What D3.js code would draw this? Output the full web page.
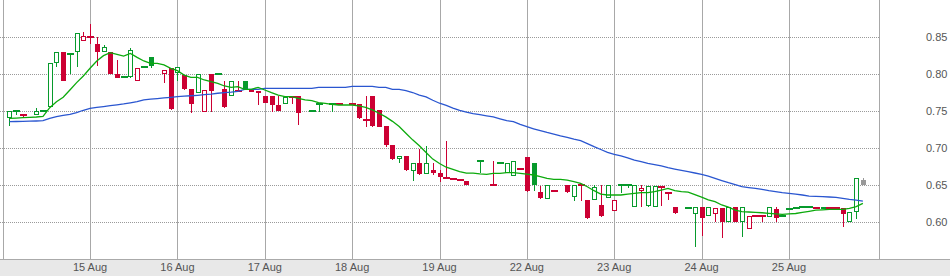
<!DOCTYPE html>
<html>
<head>
<meta charset="utf-8">
<script src="https://cdn.jsdelivr.net/npm/d3@7"></script>
<style>
  html, body { margin: 0; padding: 0; background: #fff; }
  svg { display: block; }
</style>
</head>
<body>
<div id="plot-container"></div>
<script>
'use strict';

// 30 minute candles, index 0 = first slot of 14 Aug (13 slots per day), null = no trade
const opens = [
  null, 0.74, 0.75, 0.745, null, 0.745, 0.75, 0.755, 0.815, 0.83,
  0.8275, 0.83, 0.845, 0.85, 0.84, 0.83, 0.83, 0.80, 0.796, 0.796,
  0.79, 0.809, 0.8225, null, 0.80, 0.808, 0.801, 0.7985, 0.78, 0.775,
  0.749, 0.80, 0.80, 0.78, 0.77, 0.777, 0.79, 0.7785, 0.777, 0.7703,
  0.7703, 0.758, 0.759, 0.769, 0.7703, null, 0.7495, 0.7595, null, 0.76,
  0.759, null, 0.759, 0.759, 0.738, 0.7703, 0.7514, 0.7297, 0.704, 0.6847,
  0.6892, 0.6693, 0.6793, 0.6648, 0.6702, 0.6662, 0.659, 0.658, 0.657, 0.6553,
  null, 0.682, null, 0.6495, 0.68, 0.6657, 0.662, 0.672, 0.6878, 0.6793,
  0.641, 0.6306, 0.6414, null, 0.6495, 0.634, 0.6495, 0.6297, 0.6292, 0.6229,
  0.632, 0.6144, 0.6495, 0.6495, 0.6198, 0.642, 0.622, 0.6207, 0.6468, 0.6396,
  0.6198, null, 0.6184, 0.6103, 0.6198, 0.6085, 0.6112, 0.6184, 0.5995, 0.6198,
  0.5995, 0.5905, 0.6085, 0.6085, 0.6072, 0.617, 0.6085, 0.618, 0.6185, 0.6198,
  0.6198, 0.6185, 0.617, 0.619, 0.619, 0.6184, 0.6004, 0.6139, 0.6567
];
const highs = [
  null, 0.75, 0.75, 0.745, null, 0.7535, 0.75, 0.815, 0.83, 0.83,
  0.8275, 0.855, 0.857, 0.8675, 0.85, 0.8387, 0.83, 0.819, 0.796, 0.835,
  0.808, 0.809, 0.8234, null, 0.806, 0.808, 0.809, 0.7985, 0.78, 0.80,
  0.778, 0.80, 0.80, 0.79, 0.79, 0.79, 0.79, 0.7785, 0.777, 0.7703,
  0.7703, 0.7703, 0.7694, 0.7694, 0.7703, null, 0.7495, 0.7595, null, 0.76,
  0.759, null, 0.759, 0.759, 0.7703, 0.7703, 0.7514, 0.7297, 0.704, 0.6892,
  0.6892, 0.6793, 0.6986, 0.7027, 0.68, 0.6702, 0.7094, 0.658, 0.657, 0.6553,
  null, 0.682, null, 0.682, 0.68, 0.68, 0.682, 0.672, 0.6878, 0.6793,
  0.649, 0.6495, 0.6414, null, 0.6495, 0.6495, 0.6495, 0.6297, 0.6495, 0.6495,
  0.6495, 0.6297, 0.6495, 0.6495, 0.6495, 0.6495, 0.648, 0.6486, 0.6477, 0.6396,
  0.6198, null, 0.6184, 0.6198, 0.6198, 0.6198, 0.6184, 0.6184, 0.6198, 0.6198,
  0.6198, 0.6085, 0.6085, 0.6085, 0.6198, 0.6198, 0.6085, 0.618, 0.6198, 0.6198,
  0.6198, 0.6198, 0.6198, 0.619, 0.619, 0.6184, 0.6139, 0.659, 0.659
];
const lows = [
  null, 0.73, 0.745, 0.74, null, 0.745, 0.75, 0.755, 0.81, 0.79,
  0.80, 0.81, 0.845, 0.84, 0.811, 0.83, 0.80, 0.795, 0.796, 0.795,
  0.79, 0.809, 0.8086, null, 0.788, 0.751, 0.79, 0.779, 0.747, 0.775,
  0.749, 0.749, 0.80, 0.754, 0.77, 0.777, 0.778, 0.776, 0.758, 0.7613,
  0.749, 0.75, 0.759, 0.7595, 0.731, null, 0.7495, 0.749, null, 0.749,
  0.759, null, 0.759, 0.739, 0.7288, 0.729, 0.728, 0.701, 0.684, 0.6793,
  0.669, 0.6558, 0.664, 0.6648, 0.6635, 0.654, 0.659, 0.657, 0.6555, 0.65,
  null, 0.6657, null, 0.6495, 0.68, 0.6657, 0.662, 0.672, 0.640, 0.6423,
  0.6315, 0.6306, 0.6414, null, 0.639, 0.6288, 0.6288, 0.6045, 0.6292, 0.6072,
  0.632, 0.6144, 0.6396, 0.6464, 0.6198, 0.6198, 0.6198, 0.6207, 0.6216, 0.6297,
  0.6103, null, 0.6184, 0.5667, 0.5815, 0.6085, 0.5995, 0.5788, 0.5995, 0.6004,
  0.58, 0.5905, 0.6085, 0.5995, 0.6072, 0.6004, 0.6072, 0.618, 0.617, 0.6198,
  0.6198, 0.6172, 0.617, 0.619, 0.619, 0.5937, 0.6004, 0.6045, 0.65
];
const closes = [
  null, 0.75, 0.75, 0.745, null, 0.75, 0.75, 0.815, 0.83, 0.79,
  0.8275, 0.855, 0.852, 0.85, 0.83, 0.837, 0.80, 0.795, 0.796, 0.833,
  0.808, 0.809, 0.8105, null, 0.805, 0.753, 0.809, 0.78, 0.76, 0.80,
  0.778, 0.777, 0.80, 0.755, 0.79, 0.777, 0.778, 0.776, 0.775, 0.7613,
  0.758, 0.75, 0.7694, 0.768, 0.7477, null, 0.7495, 0.7595, null, 0.76,
  0.759, null, 0.759, 0.741, 0.736, 0.730, 0.7285, 0.704, 0.6851, 0.6892,
  0.6702, 0.6793, 0.6648, 0.6793, 0.6657, 0.6612, 0.659, 0.657, 0.6555, 0.65,
  null, 0.682, null, 0.6495, 0.68, 0.68, 0.682, 0.672, 0.6423, 0.6504,
  0.6328, 0.6495, 0.6414, null, 0.640, 0.6495, 0.648, 0.6058, 0.6468, 0.6085,
  0.6495, 0.6297, 0.6495, 0.6495, 0.6495, 0.6465, 0.648, 0.6486, 0.6468, 0.6378,
  0.6117, null, 0.6184, 0.6198, 0.6058, 0.6198, 0.6184, 0.6004, 0.6198, 0.6004,
  0.6198, 0.6085, 0.6085, 0.6085, 0.6198, 0.6058, 0.6085, 0.618, 0.6185, 0.6198,
  0.6198, 0.6185, 0.6198, 0.619, 0.619, 0.6103, 0.6139, 0.659, 0.65
];

// moving averages (green = short, blue = long)
const maShort = [
  null, 0.740, 0.7405, 0.741, 0.7414, 0.7419, 0.7428, 0.7545, 0.7626, 0.7685,
  0.7784, 0.7883, 0.7973, 0.8077, 0.8176, 0.8248, 0.8288, 0.8266, 0.8243, 0.8279,
  0.8225, 0.8176, 0.8144, 0.8144, 0.8122, 0.8077, 0.8045, 0.7986, 0.7955, 0.7955,
  0.7919, 0.7896, 0.7874, 0.7838, 0.782, 0.7829, 0.7793, 0.7793, 0.782, 0.7784,
  0.7748, 0.7716, 0.7694, 0.7694, 0.7671, 0.7649, 0.764, 0.7613, 0.7604, 0.759,
  0.7581, 0.7581, 0.7581, 0.7568, 0.755, 0.7514, 0.747, 0.742, 0.736, 0.729,
  0.72, 0.711, 0.703, 0.694, 0.685, 0.679, 0.674, 0.671, 0.668, 0.666,
  0.666, 0.665, 0.6644, 0.6657, 0.6657, 0.6666, 0.6666, 0.6657, 0.6648, 0.6635,
  0.6612, 0.659, 0.6576, 0.6576, 0.6567, 0.6545, 0.6522, 0.6477, 0.6423, 0.6378,
  0.6365, 0.6365, 0.6365, 0.6378, 0.6387, 0.6396, 0.6396, 0.641, 0.6432, 0.6455,
  0.6423, 0.641, 0.6405, 0.637, 0.6335, 0.63, 0.6274, 0.623, 0.62, 0.6162,
  0.614, 0.6135, 0.613, 0.6125, 0.6117, 0.611, 0.6103, 0.611, 0.6115, 0.613,
  0.6145, 0.616, 0.6165, 0.617, 0.617, 0.617, 0.6184, 0.6207, 0.6252
];
const maLong = [
  null, 0.7356, 0.7358, 0.736, 0.7362, 0.7365, 0.737, 0.740, 0.7423, 0.744,
  0.7455, 0.7477, 0.751, 0.7535, 0.755, 0.756, 0.7572, 0.7584, 0.7595, 0.761,
  0.7626, 0.765, 0.766, 0.7667, 0.7676, 0.7685, 0.7694, 0.77, 0.7706, 0.7712,
  0.772, 0.7728, 0.774, 0.7748, 0.7755, 0.7765, 0.7793, 0.7793, 0.7793, 0.7806,
  0.7806, 0.7806, 0.7806, 0.7806, 0.7806, 0.7806, 0.7806, 0.782, 0.782, 0.782,
  0.782, 0.782, 0.7833, 0.7833, 0.7833, 0.7833, 0.782, 0.782, 0.7793, 0.7793,
  0.7775, 0.775, 0.7716, 0.769, 0.7645, 0.7605, 0.7575, 0.754, 0.751, 0.7485,
  0.7465, 0.745, 0.7435, 0.742, 0.7395, 0.737, 0.7355, 0.732, 0.7288, 0.726,
  0.7234, 0.721, 0.7189, 0.7165, 0.7144, 0.712, 0.7099, 0.706, 0.7018, 0.698,
  0.6941, 0.6915, 0.6892, 0.6865, 0.6837, 0.6815, 0.6793, 0.6775, 0.6757, 0.6735,
  0.6716, 0.6698, 0.668, 0.6662, 0.6644, 0.662, 0.659, 0.656, 0.6531, 0.6505,
  0.6477, 0.6465, 0.6455, 0.644, 0.6423, 0.641, 0.6396, 0.6387, 0.6378, 0.6365,
  0.6351, 0.6346, 0.6342, 0.6338, 0.6333, 0.632, 0.6305, 0.6297, 0.6283
];

// day separators: candle index of first slot of each day
const dayIndex = [0, 13, 26, 39, 52, 65, 78, 91, 104, 117];
const dayLabels = ["14 Aug", "15 Aug", "16 Aug", "17 Aug", "18 Aug", "19 Aug", "22 Aug", "23 Aug", "24 Aug", "25 Aug"];
const priceTicks = [0.60, 0.65, 0.70, 0.75, 0.80, 0.85];

(function () {
  const width = 950, height = 276;
  const plotRight = 879, plotBottom = 259;
  const RED = "#cc0033", GREEN = "#079a2c", LIVE = "#999999";
  const FONT = "'Liberation Sans', Arial, sans-serif";

  const svg = d3.select("#plot-container").append("svg")
    .attr("width", width).attr("height", height)
    .attr("viewBox", [0, 0, width, height]);

  const x = d3.scaleLinear().domain([0, 130.4]).range([2.7, plotRight]);
  const y = d3.scaleLinear().domain([0.55, 0.90]).range([plotBottom, 0]);
  const px = v => Math.round(v);

  // bottom date strip
  svg.append("rect")
    .attr("x", 0).attr("y", plotBottom).attr("width", width).attr("height", height - plotBottom)
    .attr("fill", "#e8e8e8");

  // horizontal dotted grid
  svg.append("g").selectAll("line").data(priceTicks).join("line")
    .attr("x1", 0).attr("x2", plotRight)
    .attr("y1", d => px(y(d)) + 0.5).attr("y2", d => px(y(d)) + 0.5)
    .attr("stroke", "#9a9a9a").attr("stroke-dasharray", "1,1")
    .attr("shape-rendering", "crispEdges");

  // vertical day lines + right border
  const vlines = dayIndex.map(i => x(i)).concat([plotRight]);
  svg.append("g").selectAll("line").data(vlines).join("line")
    .attr("x1", d => px(d) + 0.5).attr("x2", d => px(d) + 0.5)
    .attr("y1", 0).attr("y2", plotBottom)
    .attr("stroke", "#a8a8a8").attr("stroke-width", 1.3)
    .attr("shape-rendering", "crispEdges");

  svg.append("line")
    .attr("x1", 0).attr("x2", width).attr("y1", plotBottom + 0.5).attr("y2", plotBottom + 0.5)
    .attr("stroke", "#aaaaaa").attr("shape-rendering", "crispEdges");

  // build candles; colour by close vs previous close, hollow when close > open
  const candles = [];
  let prevClose = null, prevColor = GREEN;
  for (let i = 0; i < closes.length; i++) {
    if (closes[i] == null) continue;
    let color = prevColor;
    if (prevClose != null) {
      if (closes[i] > prevClose) color = GREEN;
      else if (closes[i] < prevClose) color = RED;
    }
    const live = i === closes.length - 1;
    candles.push({i: i, o: opens[i], h: highs[i], l: lows[i], c: closes[i],
                  color: live ? LIVE : color, live: live});
    prevClose = closes[i];
    prevColor = color;
  }

  const gC = svg.append("g").attr("shape-rendering", "crispEdges");
  candles.forEach(d => {
    const cx = px(x(d.i));
    const g = gC.append("g");
    if (d.h > d.l) {
      g.append("line")
        .attr("x1", cx + 0.5).attr("x2", cx + 0.5)
        .attr("y1", y(d.h)).attr("y2", y(d.l))
        .attr("stroke", d.color);
    }
    const top = px(y(Math.max(d.o, d.c)));
    const bot = px(y(Math.min(d.o, d.c)));
    if (d.o === d.c || bot - top < 2) {
      g.append("rect")
        .attr("x", cx - 3).attr("y", top - 1).attr("width", 7).attr("height", Math.max(2, bot - top))
        .attr("fill", d.color);
    } else if (d.c > d.o && !d.live) {
      g.append("rect")
        .attr("x", cx - 1.5).attr("y", top + 0.5).attr("width", 4).attr("height", bot - top - 1)
        .attr("fill", "#fff").attr("stroke", d.color);
    } else {
      g.append("rect")
        .attr("x", cx - 2).attr("y", top).attr("width", 5).attr("height", bot - top)
        .attr("fill", d.color);
    }
  });

  // moving averages
  const line = d3.line()
    .defined(d => d.v != null)
    .x(d => x(d.i)).y(d => y(d.v));
  const series = [
    {values: maLong, color: "#2a56d0"},
    {values: maShort, color: "#0caa0c"}
  ];
  series.forEach(s => {
    svg.append("path")
      .datum(s.values.map((v, i) => ({i: i, v: v})))
      .attr("d", line)
      .attr("fill", "none").attr("stroke", s.color).attr("stroke-width", 1.3);
  });

  // right price axis labels
  svg.append("g").selectAll("text").data(priceTicks).join("text")
    .attr("x", 926).attr("y", d => y(d) + 4)
    .attr("font-family", FONT).attr("font-size", 11).attr("fill", "#555")
    .text(d => d.toFixed(2));

  // date labels (skip the ones that would be cut off at the left edge)
  svg.append("g").selectAll("text")
    .data(dayIndex.map((d, k) => ({i: d, label: dayLabels[k]})).filter(d => x(d.i) > 20))
    .join("text")
    .attr("x", d => x(d.i)).attr("y", 271)
    .attr("text-anchor", "middle")
    .attr("font-family", FONT).attr("font-size", 11).attr("fill", "#555")
    .text(d => d.label);
})();
</script>
</body>
</html>
